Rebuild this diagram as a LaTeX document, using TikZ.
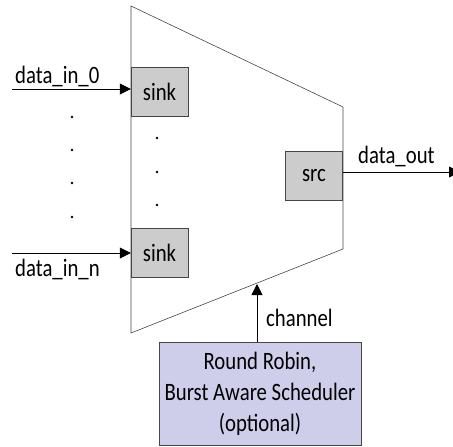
\documentclass[tikz,border=0pt]{standalone}
\usepackage{fontspec}
\setmainfont{Carlito}[FakeStretch=0.83]
\usetikzlibrary{arrows.meta}
\definecolor{portgray}{RGB}{204,204,204}
\definecolor{schedblue}{RGB}{206,206,234}
\definecolor{edgegray}{RGB}{70,70,70}
\tikzset{
  port/.style={draw=edgegray, fill=portgray, minimum width=57pt, minimum height=49pt, inner sep=0pt},
  sig/.style={-{Triangle[length=11pt,width=11pt]}, thick},
  lbl/.style={font=\fontsize{25}{28}\selectfont, inner sep=0pt},
  dot/.style={circle, fill=black, inner sep=0pt, minimum size=2.6pt}
}
\begin{document}
\begin{tikzpicture}[x=1pt, y=-1pt]
  \useasboundingbox (0,0) rectangle (453,447);
  % multiplexer body
  \draw[edgegray, semithick] (131,6) -- (343,107) -- (343,249) -- (131,333) -- cycle;

  \node[port, lbl] (sink0) at (159.5,91.5) {sink};
  \node[port, lbl] (sinkn) at (159.5,252.5) {sink};
  \node[port, lbl] (src) at (314,175.5) {src};
  \node[draw=edgegray, fill=schedblue, minimum width=202pt, minimum height=103pt,
        inner sep=0pt, lbl, align=center, font=\fontsize{25}{31}\selectfont] (sched) at (260,393.5)
        {Round Robin,\\Burst Aware Scheduler\\(optional)};

  % inputs and output
  \coordinate (in0) at (12,89);
  \coordinate (inn) at (12,253);
  \coordinate (out) at (460,172);
  \coordinate (chan) at (257,284);
  \draw[sig] (in0) -- (in0 -| sink0.west);
  \draw[sig] (inn) -- (inn -| sinkn.west);
  \draw[sig] (src.east |- out) -- (out);
  \draw[sig] (sched.north -| chan) -- (chan);

  \node[lbl, anchor=base west] (lin0) at (15,83) {data\_in\_0};
  \node[lbl, anchor=base west] (linn) at (15,276) {data\_in\_n};
  \node[lbl, anchor=base west] (lout) at (358,163) {data\_out};
  \node[lbl, anchor=base west] (lchan) at (266,326) {channel};

  % ellipsis dots
  \foreach \y in {117,150,183,217} \node[dot] at (72,\y) {};
  \foreach \y in {138,172,205} \node[dot] at (157,\y) {};
\end{tikzpicture}
\end{document}
